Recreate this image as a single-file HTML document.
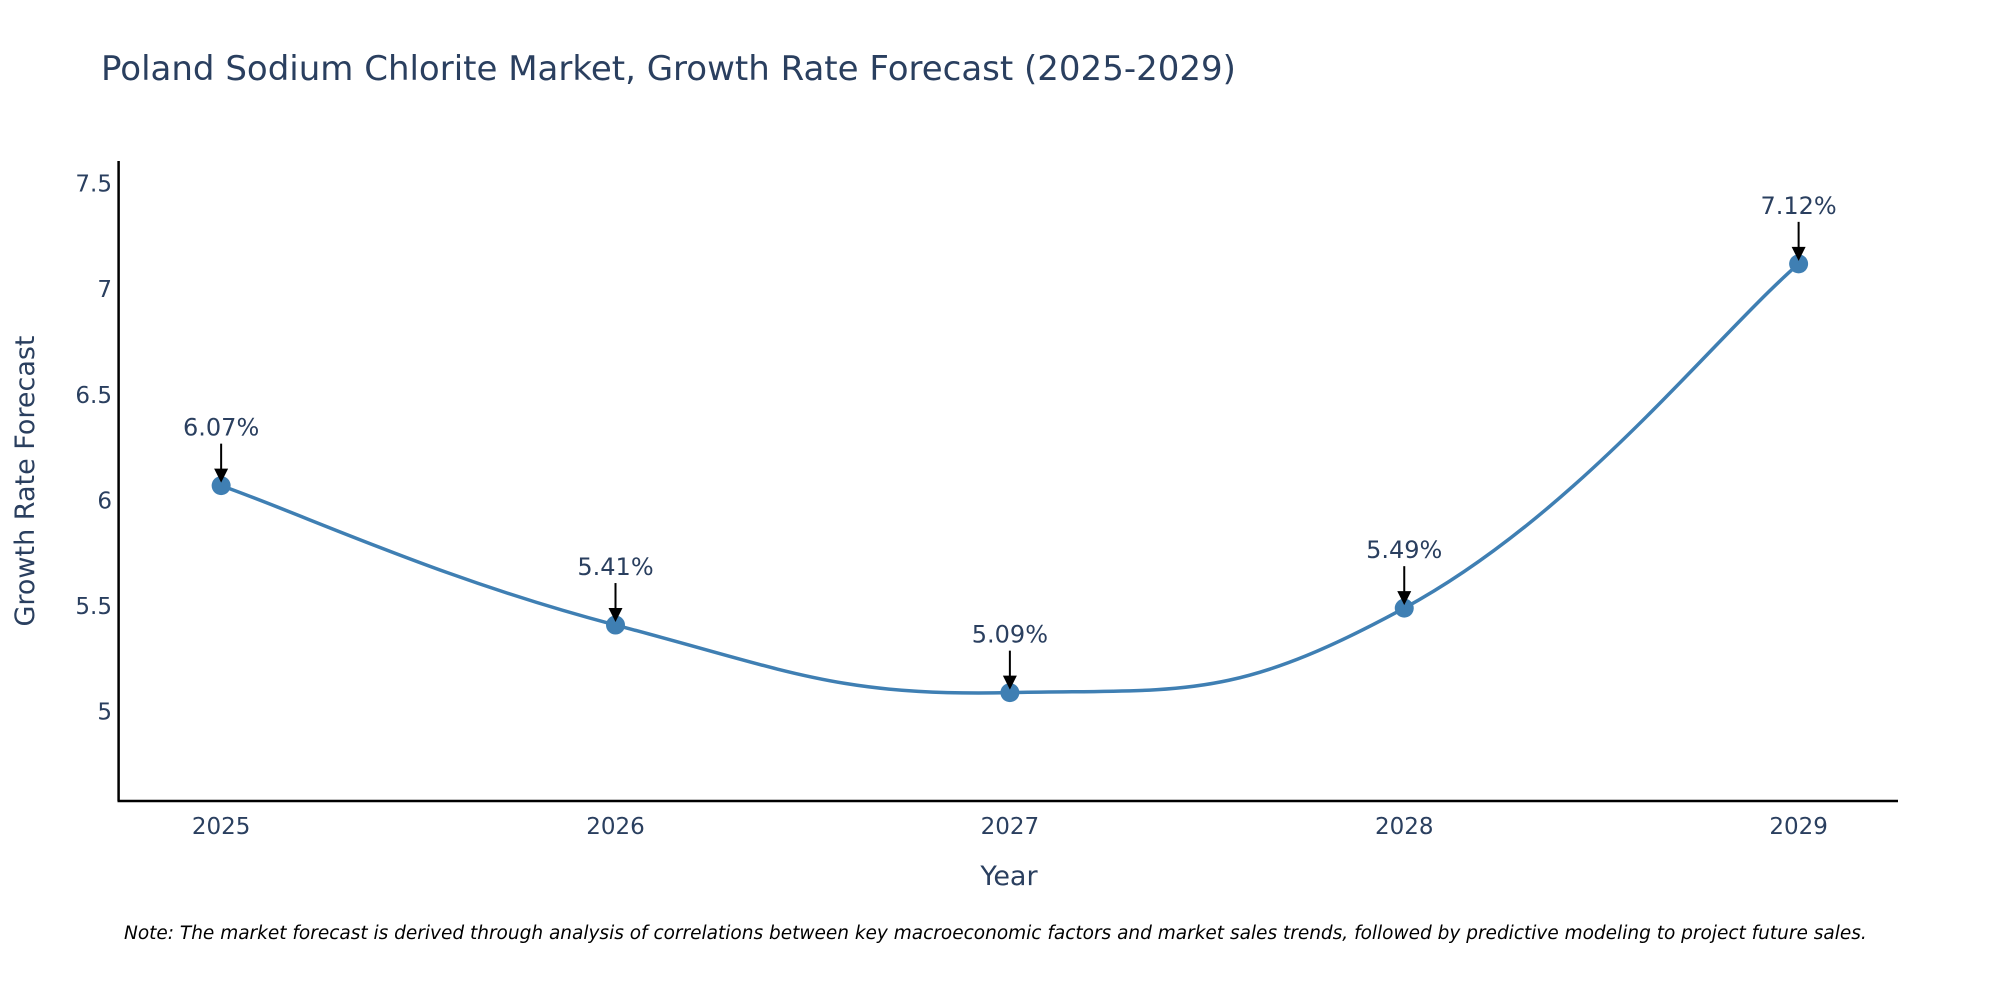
<!DOCTYPE html>
<html><head><meta charset="utf-8"><style>
html,body{margin:0;padding:0;background:#fff;}
svg{display:block;font-family:"DejaVu Sans","Liberation Sans",sans-serif;}
</style></head><body>
<svg id="chart" width="2000" height="1000" viewBox="0 0 2000 1000">
<text x="101" y="80" font-size="34" fill="#2a3f5f">Poland Sodium Chlorite Market, Growth Rate Forecast (2025-2029)</text>
<g id="yticks"></g>
<g id="xticks"></g>
<line x1="118.6" y1="161" x2="118.6" y2="801" stroke="#000" stroke-width="2.5"/>
<line x1="117.5" y1="801" x2="1898" y2="801" stroke="#000" stroke-width="2.5"/>
<text x="0" y="0" transform="translate(34,481) rotate(-90)" text-anchor="middle" font-size="27" fill="#2a3f5f">Growth Rate Forecast</text>
<text x="1009" y="885" text-anchor="middle" font-size="27" fill="#2a3f5f">Year</text>
<g id="series"></g>
<g id="annots"></g>
<text x="124" y="939" font-size="18.5" font-style="italic" fill="#000">Note: The market forecast is derived through analysis of correlations between key macroeconomic factors and market sales trends, followed by predictive modeling to project future sales.</text>
</svg>
<script>
const years = [2025, 2026, 2027, 2028, 2029];
const rates = [6.07, 5.41, 5.09, 5.49, 7.12];
const rateLabels = ["6.07%", "5.41%", "5.09%", "5.49%", "7.12%"];
const yTickValues = [5, 5.5, 6, 6.5, 7, 7.5];
const yTickLabels = ["5", "5.5", "6", "6.5", "7", "7.5"];

const NS = "http://www.w3.org/2000/svg";
const xMin = 2024.74, xMax = 2029.252, px0 = 118.6, px1 = 1898;
const yMin = 4.577, yMax = 7.607, py0 = 801, py1 = 161;
function xs(v){ return px0 + (v - xMin) / (xMax - xMin) * (px1 - px0); }
function ys(v){ return py0 - (v - yMin) / (yMax - yMin) * (py0 - py1); }
function mk(tag, attrs, parent){ const e = document.createElementNS(NS, tag); for (const k in attrs) e.setAttribute(k, attrs[k]); parent.appendChild(e); return e; }

const yt = document.getElementById('yticks');
yTickValues.forEach((v, i) => {
  const t = mk('text', {x: 112, y: ys(v) + 8, 'text-anchor': 'end', 'font-size': 23, fill: '#2a3f5f'}, yt);
  t.textContent = yTickLabels[i];
  
  
});
const xt = document.getElementById('xticks');
years.forEach(y => {
  const t = mk('text', {x: xs(y), y: 834, 'text-anchor': 'middle', 'font-size': 23, fill: '#2a3f5f'}, xt);
  t.textContent = String(y);
  
  
});

const pts = years.map((y, i) => [xs(y), ys(rates[i])]);
let d = 'M' + pts[0][0] + ',' + pts[0][1];
const s = 0.22;
for (let i = 0; i < pts.length - 1; i++) {
  const p0 = pts[Math.max(0, i - 1)], p1 = pts[i], p2 = pts[i + 1], p3 = pts[Math.min(pts.length - 1, i + 2)];
  const c1 = [p1[0] + (p2[0] - p0[0]) * s, p1[1] + (p2[1] - p0[1]) * s];
  const c2 = [p2[0] - (p3[0] - p1[0]) * s, p2[1] - (p3[1] - p1[1]) * s];
  d += ' C' + c1.join(',') + ' ' + c2.join(',') + ' ' + p2.join(',');
}
const sg = document.getElementById('series');
const line = mk('path', {d: d, fill: 'none', stroke: '#3f7fb3', 'stroke-width': 3.5}, sg);


const ag = document.getElementById('annots');
pts.forEach((p, i) => {
  const c = mk('circle', {cx: p[0], cy: p[1], r: 9.5, fill: '#3f7fb3'}, sg);
  
  
  const l = mk('line', {x1: p[0], y1: p[1] - 42, x2: p[0], y2: p[1] - 14, stroke: '#000', 'stroke-width': 2}, ag);
  
  
  const h = mk('path', {d: `M${p[0]-7},${p[1]-17} L${p[0]+7},${p[1]-17} L${p[0]},${p[1]-3} Z`, fill: '#000'}, ag);
  
  
  const t = mk('text', {x: p[0], y: p[1] - 50, 'text-anchor': 'middle', 'font-size': 24, fill: '#2a3f5f'}, ag);
  t.textContent = rateLabels[i];
  
  
});
</script>
</body></html>
